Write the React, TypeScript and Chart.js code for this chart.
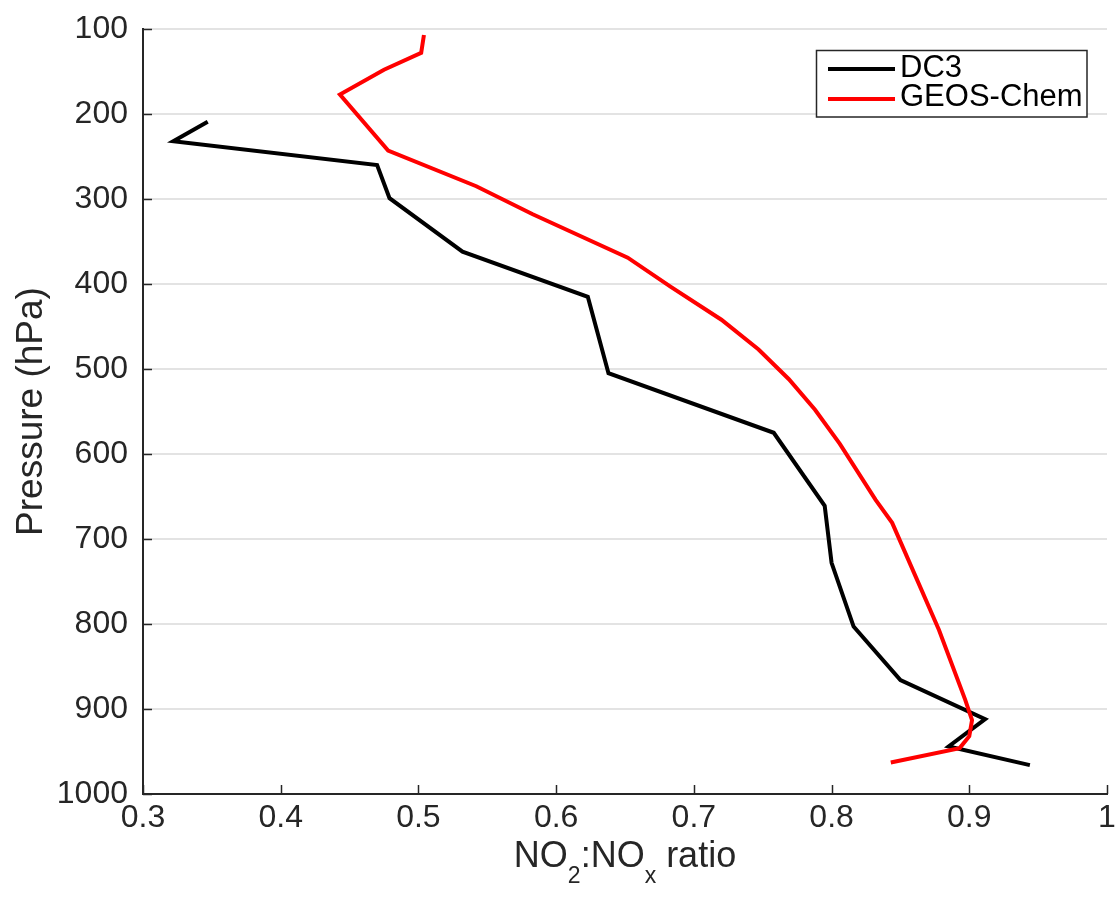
import React, { useEffect, useRef } from "react";
import { Chart, registerables } from "chart.js";

Chart.register(...registerables);

// ---- data ----
const seriesNames = ["DC3", "GEOS-Chem"];
const seriesColors = ["#000000", "#ff0000"];

const dc3Ratio = [0.347, 0.322, 0.47, 0.479, 0.532, 0.623, 0.638, 0.758, 0.795, 0.8, 0.816, 0.85, 0.9115, 0.885, 0.944];
const dc3Pressure = [209, 232, 260, 299, 362, 415, 505, 575, 661, 728, 803, 866, 912, 944, 966];

const geosRatio = [0.504, 0.502, 0.475, 0.443, 0.478, 0.542, 0.583, 0.652, 0.683, 0.72, 0.747, 0.769, 0.788, 0.806, 0.832, 0.844, 0.861, 0.878, 0.897, 0.902, 0.9, 0.893, 0.843];
const geosPressure = [107, 128, 148, 177, 243, 285, 318, 369, 403, 442, 477, 512, 548, 588, 654, 681, 744, 807, 889, 913, 932, 946, 963];

const xTicks = [0.3, 0.4, 0.5, 0.6, 0.7, 0.8, 0.9, 1];
const yTicks = [100, 200, 300, 400, 500, 600, 700, 800, 900, 1000];
const xTickLabels = ["0.3", "0.4", "0.5", "0.6", "0.7", "0.8", "0.9", "1"];

const yTitle = "Pressure (hPa)";
// x title pieces: [text, isSubscript]
const xTitleParts: [string, boolean][] = [
  ["NO", false],
  ["2", true],
  [":NO", false],
  ["x", true],
  [" ratio", false],
];

const FONT = "'Liberation Sans', Arial, Helvetica, sans-serif";
const TEXT = "#262626";

const decorPlugin = {
  id: "decor",
  afterDraw(chart: any) {
    const { ctx, chartArea, scales } = chart;
    const xs = scales.x;
    const ys = scales.y;
    ctx.save();
    // inward tick marks
    ctx.strokeStyle = TEXT;
    ctx.lineWidth = 1.5;
    xTicks.forEach((v) => {
      const px = Math.round(xs.getPixelForValue(v)) + 0.5;
      ctx.beginPath();
      ctx.moveTo(px, chartArea.bottom);
      ctx.lineTo(px, chartArea.bottom - 9);
      ctx.stroke();
    });
    yTicks.forEach((v) => {
      const py = Math.round(ys.getPixelForValue(v)) + 0.5;
      ctx.beginPath();
      ctx.moveTo(chartArea.left, py);
      ctx.lineTo(chartArea.left + 9, py);
      ctx.stroke();
    });

    // y title
    ctx.fillStyle = TEXT;
    ctx.save();
    ctx.translate(42, (chartArea.top + chartArea.bottom) / 2);
    ctx.rotate(-Math.PI / 2);
    ctx.font = `37px ${FONT}`;
    ctx.textAlign = "center";
    ctx.textBaseline = "alphabetic";
    ctx.fillText(yTitle, 0, 0);
    ctx.restore();

    // x title with subscripts
    const bigFont = `36px ${FONT}`;
    const smallFont = `23px ${FONT}`;
    let total = 0;
    const widths = xTitleParts.map(([t, sub]) => {
      ctx.font = sub ? smallFont : bigFont;
      const w = ctx.measureText(t).width;
      total += w;
      return w;
    });
    let cx = (chartArea.left + chartArea.right) / 2 - total / 2;
    const base = chartArea.bottom + 73;
    ctx.textAlign = "left";
    ctx.textBaseline = "alphabetic";
    xTitleParts.forEach(([t, sub], i) => {
      ctx.font = sub ? smallFont : bigFont;
      ctx.fillText(t, cx, sub ? base + 16 : base);
      cx += widths[i];
    });

    // legend
    const bx = 816.5;
    const by = chartArea.top + 21.5;
    const bw = 270.5;
    const bh = 66.5;
    ctx.fillStyle = "#ffffff";
    ctx.fillRect(bx, by, bw, bh);
    ctx.strokeStyle = TEXT;
    ctx.lineWidth = 1.5;
    ctx.strokeRect(bx, by, bw, bh);
    const names = chart.data.datasets.map((d: any) => d.label);
    names.forEach((name: string, i: number) => {
      const ly = by + 18.5 + i * 30;
      ctx.strokeStyle = chart.data.datasets[i].borderColor;
      ctx.lineWidth = 4;
      ctx.beginPath();
      ctx.moveTo(bx + 11.5, ly);
      ctx.lineTo(bx + 78.5, ly);
      ctx.stroke();
      ctx.fillStyle = "#000000";
      ctx.font = `31px ${FONT}`;
      ctx.textAlign = "left";
      ctx.textBaseline = "alphabetic";
      ctx.fillText(name, bx + 83.5, ly + 8 + (i === 1 ? -1 : 0));
    });
    ctx.restore();
  },
};

export default function App() {
  const canvasRef = useRef<HTMLCanvasElement | null>(null);

  useEffect(() => {
    if (!canvasRef.current) return;
    const chart = new Chart(canvasRef.current, {
      type: "scatter",
      data: {
        datasets: [
          {
            label: seriesNames[0],
            data: dc3Ratio.map((v, i) => ({ x: v, y: dc3Pressure[i] })),
            showLine: true,
            borderColor: seriesColors[0],
            backgroundColor: seriesColors[0],
            borderWidth: 4,
            pointRadius: 0,
            tension: 0,
            order: 1,
          },
          {
            label: seriesNames[1],
            data: geosRatio.map((v, i) => ({ x: v, y: geosPressure[i] })),
            showLine: true,
            borderColor: seriesColors[1],
            backgroundColor: seriesColors[1],
            borderWidth: 4,
            pointRadius: 0,
            tension: 0,
            order: 0,
          },
        ],
      },
      options: {
        responsive: false,
        animation: false,
        devicePixelRatio: 1,
        layout: { padding: { left: 0, top: 29, right: 11, bottom: 0 } },
        plugins: {
          legend: { display: false },
          tooltip: { enabled: false },
        },
        scales: {
          x: {
            type: "linear",
            min: 0.3,
            max: 1,
            afterBuildTicks: (s: any) => {
              s.ticks = xTicks.map((v) => ({ value: v }));
            },
            afterFit: (s: any) => {
              s.height = 104;
              s.paddingLeft = 0;
              s.paddingRight = 0;
            },
            grid: { display: false, drawTicks: false },
            border: { display: true, color: TEXT, width: 2 },
            ticks: {
              color: TEXT,
              font: { family: FONT, size: 32 },
              padding: 5,
              maxRotation: 0,
              autoSkip: false,
              callback: (v: any) => {
                const idx = xTicks.findIndex((t) => Math.abs(t - v) < 1e-9);
                return idx >= 0 ? xTickLabels[idx] : String(v);
              },
            },
          },
          y: {
            type: "linear",
            reverse: true,
            min: 100,
            max: 1000,
            afterBuildTicks: (s: any) => {
              s.ticks = yTicks.map((v) => ({ value: v }));
            },
            afterFit: (s: any) => {
              s.width = 143;
              s.paddingTop = 0;
              s.paddingBottom = 0;
            },
            grid: {
              drawTicks: false,
              lineWidth: 2,
              color: (c: any) => (c.tick && c.tick.value === 1000 ? "rgba(0,0,0,0)" : "#e3e3e3"),
            },
            border: { display: true, color: TEXT, width: 2 },
            ticks: {
              color: TEXT,
              font: { family: FONT, size: 32 },
              padding: 15,
              autoSkip: false,
              callback: (v: any) => String(v),
            },
          },
        },
      },
      plugins: [decorPlugin],
    });
    return () => chart.destroy();
  }, []);

  return (
    <div style={{ position: "absolute", left: 0, top: 0, width: 1118, height: 898, background: "#ffffff" }}>
      <canvas ref={canvasRef} width={1118} height={898} style={{ display: "block" }} />
    </div>
  );
}
